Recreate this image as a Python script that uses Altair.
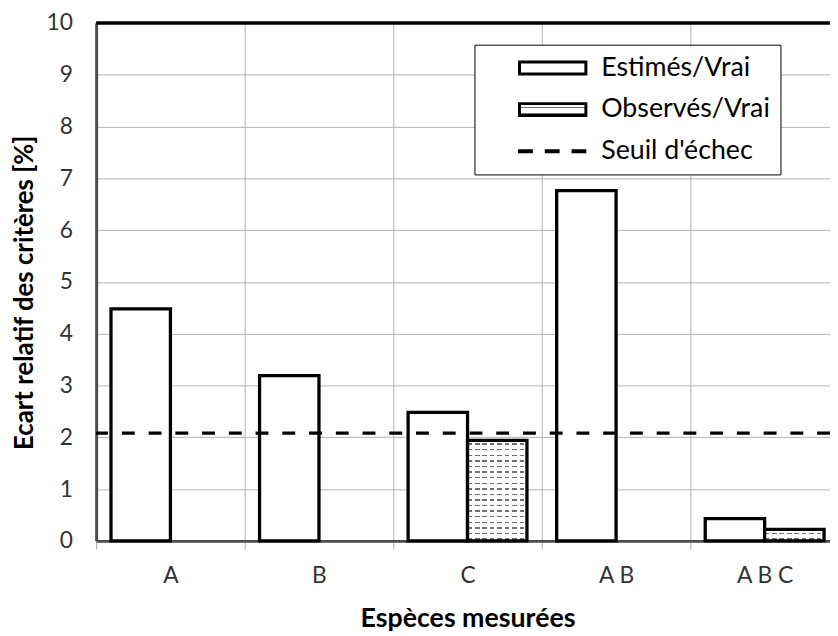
import altair as alt
import pandas as pd

# ---- data ----
categories = ["A", "B", "C", "A B", "A B C"]
series_names = ["Estimés/Vrai", "Observés/Vrai", "Seuil d'échec"]
estimated = [4.48, 3.19, 2.48, 6.76, 0.43]
observed = [0.0, 0.0, 1.94, 0.0, 0.22]
threshold = [2.08]
y_ticks = list(range(0, 11))

EST, OBS, SEUIL = series_names
FONT = "Lato"

rows = []
for c, e, o in zip(categories, estimated, observed):
    rows.append({"espece": c, "serie": EST, "valeur": e})
    rows.append({"espece": c, "serie": OBS, "valeur": o})
df = pd.DataFrame(rows)
thr_df = pd.DataFrame({"serie": [SEUIL], "valeur": threshold})
top_df = pd.DataFrame({"valeur": [y_ticks[-1]]})


# ---- styling helpers (hatch texture) ----
def stripe_stops(n, on=0.55, off=0.8, color="#707070"):
    stops = [(0.0, "white")]
    for i in range(n):
        p = i / n
        s, e = p + on / n, p + off / n
        stops += [(s, "white"), (s, color), (e, color), (e, "white")]
    stops.append((1.0, "white"))
    return stops


def gradient(stops, vertical=True):
    return {
        "gradient": "linear", "x1": 0, "y1": 0,
        "x2": 0 if vertical else 1, "y2": 1 if vertical else 0,
        "stops": [{"offset": round(o, 4), "color": c} for o, c in stops],
    }


def gradient_expr(stops):
    s = ", ".join("{offset: %.4f, color: '%s'}" % (o, c) for o, c in stops)
    return "{gradient: 'linear', x1: 0, y1: 0, x2: 0, y2: 1, stops: [%s]}" % s


grad_big = gradient(stripe_stops(18))
grad_small = gradient(stripe_stops(2))
clear = "rgba(255,255,255,0)"
breaker = []
for i in range(8):
    p = i / 8
    breaker += [(p, clear), (p + 0.62 / 8, clear), (p + 0.62 / 8, "white"), ((i + 1) / 8, "white")]
grad_breaker = gradient(breaker, vertical=False)

rect_path = "M-1,-0.6H5.7V0.6H-1Z"
dash_path = ("M-1,-0.05H0.2V0.05H-1Z M1.7,-0.05H2.9V0.05H1.7Z "
             "M4.4,-0.05H5.6V0.05H4.4Z")

GRID = "#b3b3b3"

# ---- encodings ----
x_enc = alt.X(
    "espece:N", sort=categories,
    scale=alt.Scale(domain=categories, range=[0, 750], paddingInner=0, paddingOuter=0),
    axis=alt.Axis(
        title="Espèces mesurées", titleFont=FONT, titleFontSize=27, titleFontWeight="bold",
        titleColor="black", titleBaseline="alphabetic", titleX=375, titleY=86,
        labelFont=FONT, labelFontSize=23, labelColor="#333333", labelAngle=0,
        labelBaseline="alphabetic", labelPadding=34,
        domainColor="#4d4d4d", domainWidth=3,
        ticks=True, tickColor="#a6a6a6", tickWidth=1, tickSize=8, tickBand="extent",
        grid=True, gridColor=GRID, gridWidth=1,
    ),
)
y_enc = alt.Y(
    "valeur:Q",
    scale=alt.Scale(domain=[0, 10], nice=False, zero=True),
    axis=alt.Axis(
        title="Ecart relatif des critères  [%]", titleFont=FONT, titleFontSize=26,
        titleFontWeight="bold", titleColor="black", titleBaseline="alphabetic",
        titleAlign="center", titleX=-64, titleY=272, titleAngle=270,
        values=y_ticks, labelFont=FONT, labelFontSize=23, labelColor="#333333",
        labelPadding=24, ticks=False, tickSize=0,
        domainColor="#4d4d4d", domainWidth=3,
        grid=True, gridColor=GRID, gridWidth=1,
    ),
)
xoff_enc = alt.XOffset("serie:N", scale=alt.Scale(domain=[EST, OBS], paddingInner=0, paddingOuter=0.25))

legend = alt.Legend(
    title=None, orient="none", legendX=382, legendY=22, padding=10,
    strokeColor="black", fillColor="white",
    symbolSize=400, symbolOffset=32, symbolStrokeWidth=3, symbolStrokeColor="black",
    labelOffset=59, labelFont=FONT, labelFontSize=27, labelColor="black", labelLimit=400,
    rowPadding=14,
)

base = alt.Chart(df)

est_bars = base.transform_filter(alt.FieldEqualPredicate(field="serie", equal=EST)).mark_bar(
    fill="white", stroke="black", strokeWidth=3.3
).encode(x=x_enc, y=y_enc, xOffset=xoff_enc)

obs_base = base.transform_filter(alt.FieldEqualPredicate(field="serie", equal=OBS)).transform_filter(
    "datum.valeur > 0")
obs_fill = obs_base.mark_bar(strokeWidth=0).encode(
    x=x_enc, y=y_enc, xOffset=xoff_enc,
    fill=alt.condition("datum.valeur > 1", alt.value(grad_big), alt.value(grad_small)),
)
obs_edge = obs_base.mark_bar(fill=grad_breaker, stroke="black", strokeWidth=3.3).encode(
    x=x_enc, y=y_enc, xOffset=xoff_enc)

thr_rule = alt.Chart(thr_df).mark_rule(color="black", strokeWidth=3.5, strokeDash=[13, 14]).encode(y=y_enc)
top_rule = alt.Chart(top_df).mark_rule(color="black", strokeWidth=3.5).encode(y=y_enc)

legend_layer = alt.Chart(thr_df).transform_filter("false").mark_point(
    filled=True, strokeWidth=3, opacity=1
).encode(
    y=y_enc,
    fill=alt.Fill("serie:N", scale=alt.Scale(domain=series_names,
                                             range=["white", {"expr": gradient_expr(stripe_stops(2))}, "black"]),
                  legend=legend),
    stroke=alt.Stroke("serie:N", scale=alt.Scale(domain=series_names, range=["black", "black", "black"]),
                      legend=legend),
    shape=alt.Shape("serie:N", scale=alt.Scale(domain=series_names, range=[rect_path, rect_path, dash_path]),
                    legend=legend),
)

chart = alt.layer(est_bars, obs_fill, obs_edge, thr_rule, top_rule, legend_layer).properties(
    width=741, height=523,
    autosize=alt.AutoSizeParams(type="none"),
    padding={"left": 89, "top": 12, "right": 0, "bottom": 93},
    background="white",
).configure_view(stroke=None)

chart.save("out.html", embed_options={"renderer": "svg", "actions": False})
